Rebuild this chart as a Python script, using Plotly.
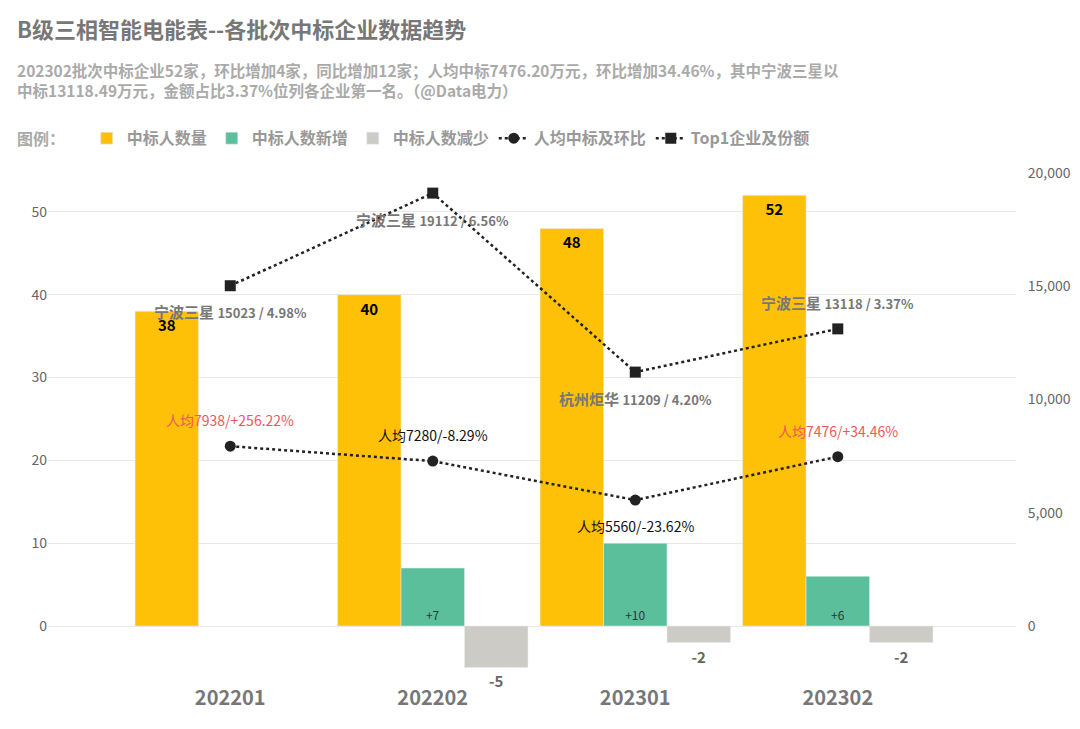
import plotly.graph_objects as go

cats = ["202201", "202202", "202301", "202302"]
winners = [38, 40, 48, 52]
new_w = [None, 7, 10, 6]
less_w = [None, -5, -2, -2]
per_cap = [7938, 7280, 5560, 7476]
per_chg = ["+256.22%", "-8.29%", "-23.62%", "+34.46%"]
top1_amt = [15023, 19112, 11209, 13118]
top1_name = ["宁波三星", "宁波三星", "杭州炬华", "宁波三星"]
top1_share = ["4.98%", "6.56%", "4.20%", "3.37%"]

x = list(range(len(cats)))
F = "Noto Sans CJK SC"
fig = go.Figure()
fig.add_bar(x=x, y=winners, name="<b>中标人数量</b>", marker_color="#FFC107",
            text=["<b>%d</b>" % v for v in winners], textposition="inside", insidetextanchor="end",
            textfont=dict(color="black", size=15, family=F))
fig.add_bar(x=x, y=new_w, name="<b>中标人数新增</b>", marker_color="#5CBF9B",
            text=[("+%d" % v) if v else "" for v in new_w], textposition="inside", insidetextanchor="start",
            textfont=dict(color="#333", size=12, family=F))
fig.add_bar(x=x, y=less_w, name="<b>中标人数减少</b>", marker_color="#CCCBC6",
            text=["<b>%d</b>" % v if v else "" for v in less_w], textposition="outside",
            textfont=dict(color="#666", size=15, family=F), cliponaxis=False)
fig.add_scatter(x=x, y=per_cap, yaxis="y2", name="<b>人均中标及环比</b>", mode="lines+markers",
                line=dict(color="#222", dash="dot", width=2.5), marker=dict(symbol="circle", size=11, color="#222"))
fig.add_scatter(x=x, y=top1_amt, yaxis="y2", name="<b>Top1企业及份额</b>", mode="lines+markers",
                line=dict(color="#222", dash="dot", width=2.5), marker=dict(symbol="square", size=11, color="#222"))

ann = []
for i in x:
    red = per_chg[i].startswith("+")
    ann.append(dict(x=i, y=per_cap[i], yref="y2", text="人均%d/%s" % (per_cap[i], per_chg[i]),
                    showarrow=False, yshift=26 if i != 2 else -26,
                    font=dict(size=14, family=F, color="#F0575A" if red else "#111")))
    ann.append(dict(x=i, y=top1_amt[i], yref="y2",
                    text="<b>%s</b> <span style='font-size:13px'><b>%d / %s</b></span>" % (top1_name[i], top1_amt[i], top1_share[i]),
                    showarrow=False, yshift=-26 if i in (0, 1, 2) else 26,
                    font=dict(size=15, family=F, color="#777")))
ann.append(dict(xref="paper", yref="paper", x=-0.034, y=1.284, xanchor="left", yanchor="middle", showarrow=False,
                text="<b>B级三相智能电能表--各批次中标企业数据趋势</b>", font=dict(size=22, family=F, color="#777")))
ann.append(dict(xref="paper", yref="paper", x=-0.034, y=1.182, xanchor="left", yanchor="middle", align="left", showarrow=False,
                text="<b>202302批次中标企业52家，环比增加4家，同比增加12家；人均中标7476.20万元，环比增加34.46%，其中宁波三星以<br>中标13118.49万元，金额占比3.37%位列各企业第一名。（@Data电力）</b>",
                font=dict(size=15.5, family=F, color="#AAA")))
ann.append(dict(xref="paper", yref="paper", x=-0.034, y=1.068, xanchor="left", yanchor="middle", showarrow=False,
                text="<b>图例：</b>", font=dict(size=16, family=F, color="#AAA")))

fig.update_layout(
    width=1080, height=729, plot_bgcolor="white", paper_bgcolor="white",
    margin=dict(l=40, r=72, t=165, b=53),
    barmode="group", bargap=0.06, bargroupgap=0,
    showlegend=True,
    legend=dict(orientation="h", x=0.04, y=1.068, xanchor="left", yanchor="middle",
                font=dict(size=16, family=F, color="#999"), itemwidth=30, tracegroupgap=0),
    xaxis=dict(range=[-0.9, 3.88], tickvals=x, ticktext=["<b>%s</b>" % c for c in cats],
               tickfont=dict(size=20, family=F, color="#777"), showgrid=False, zeroline=False, ticklen=0),
    yaxis=dict(range=[-7, 54.7], tickvals=[0, 10, 20, 30, 40, 50], showgrid=True, gridcolor="#E8E8E8",
               zeroline=False, tickfont=dict(size=14, family=F, color="#666")),
    yaxis2=dict(range=[-2560, 20000], overlaying="y", side="right", tickvals=[0, 5000, 10000, 15000, 20000],
                tickformat=",", showgrid=False, zeroline=False, tickfont=dict(size=14, family=F, color="#666"),
                ticks="outside", ticklen=8, tickcolor="white"),
    annotations=ann,
)
fig.write_html("out.html")
